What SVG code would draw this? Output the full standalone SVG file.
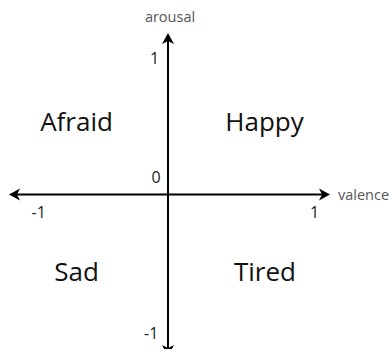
<svg xmlns="http://www.w3.org/2000/svg" width="392" height="349" viewBox="0 0 392 349">
<style>
.ax{stroke:#000;stroke-width:2;fill:none}
.ah{fill:#000}
.sm{font-family:"Open Sans",sans-serif;font-size:14.5px;fill:#555}
.num{font-family:"Open Sans",sans-serif;font-size:16px;fill:#222}
.big{font-family:"Open Sans",sans-serif;font-size:26px;fill:#111;text-anchor:middle}
</style>
<rect width="392" height="349" fill="#fff"/>
<g id="connectors">
<line class="ax" x1="168" y1="38" x2="168" y2="352"/>
<line class="ax" x1="14" y1="194.5" x2="324" y2="194.5"/>
<path class="ah" d="M168,33 L174,44 L168,41 L162,44 Z"/>
<path class="ah" d="M9,194.5 L20,188.5 L17,194.5 L20,200.5 Z"/>
<path class="ah" d="M330,194.5 L319,188.5 L322,194.5 L319,200.5 Z"/>
<path class="ah" d="M168,356 L174,345 L168,348 L162,345 Z"/>
</g>
<g id="labels">
<text class="sm" x="170" y="22" text-anchor="middle">arousal</text>
<text class="sm" x="338" y="200">valence</text>
<text class="num" x="150" y="64">1</text>
<text class="num" x="151.5" y="183">0</text>
<text class="num" x="31.5" y="218">-1</text>
<text class="num" x="310" y="218">1</text>
<text class="num" x="144" y="339">-1</text>
</g>
<g id="afraid"><text class="big" x="76.5" y="131">Afraid</text></g>
<g id="happy"><text class="big" x="264.5" y="131">Happy</text></g>
<g id="sad"><text class="big" x="76.5" y="281">Sad</text></g>
<g id="tired"><text class="big" x="265" y="281">Tired</text></g>
</svg>
